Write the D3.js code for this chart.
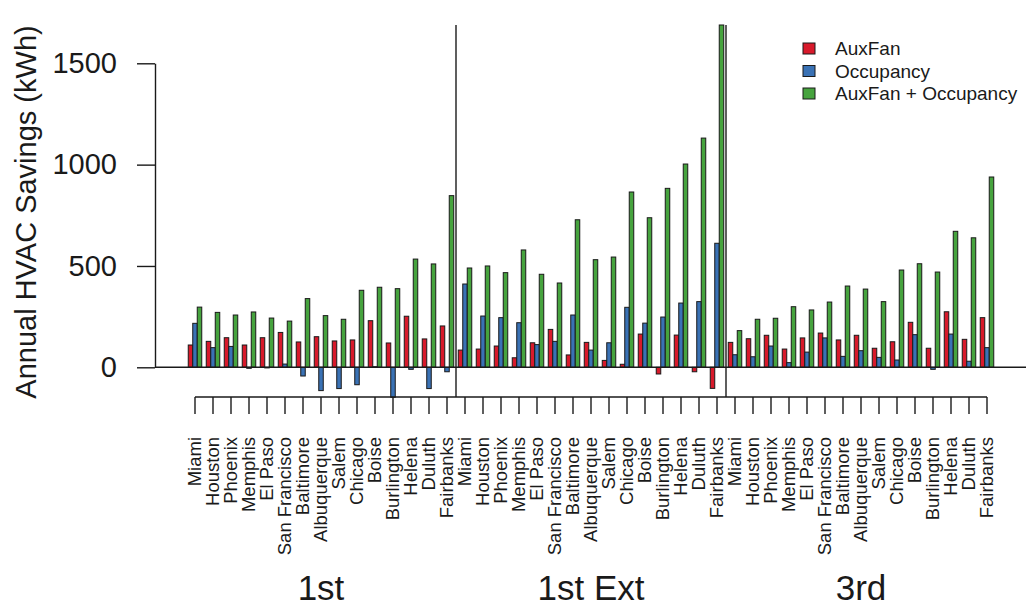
<!DOCTYPE html>
<html>
<head>
<meta charset="utf-8">
<script src="https://cdn.jsdelivr.net/npm/d3@7"></script>
<style>
  html, body { margin: 0; padding: 0; background: #fff; }
  svg { display: block; font-family: "Liberation Sans", Arial, sans-serif; }
</style>
</head>
<body>
<svg id="chart" width="1026" height="611"></svg>
<script>
// Building configurations (outer groups) and climate-zone cities (inner categories)
const groups = ["1st", "1st Ext", "3rd"];
const cities = ["Miami", "Houston", "Phoenix", "Memphis", "El Paso", "San Francisco",
  "Baltimore", "Albuquerque", "Salem", "Chicago", "Boise", "Burlington",
  "Helena", "Duluth", "Fairbanks"];
const seriesNames = ["AuxFan", "Occupancy", "AuxFan + Occupancy"];
const seriesColors = ["#d81a2b", "#3a72b5", "#46a33e"];

// Annual HVAC savings (kWh), one array per series per configuration, in city order
const auxFan1st   = [110, 128, 146, 110, 146, 172, 125, 151, 130, 135, 230, 120, 252, 140, 204];
const occ1st      = [217, 97, 103, -5, -3, 16, -43, -115, -105, -86, 3, -148, -10, -105, -22];
const both1st     = [297, 271, 258, 273, 243, 228, 339, 255, 237, 380, 395, 388, 534, 510, 847];

const auxFan1stExt = [85, 90, 105, 47, 121, 187, 61, 123, 34, 15, 164, -33, 159, -22, -104];
const occ1stExt    = [411, 253, 245, 220, 112, 128, 258, 85, 121, 296, 218, 248, 317, 324, 612];
const both1stExt   = [490, 500, 467, 579, 459, 416, 728, 531, 544, 865, 738, 883, 1003, 1131, 1689];

const auxFan3rd = [123, 141, 158, 90, 145, 169, 135, 158, 94, 126, 222, 94, 274, 138, 245];
const occ3rd    = [62, 52, 105, 23, 75, 145, 54, 82, 49, 36, 161, -10, 164, 30, 97];
const both3rd   = [181, 237, 242, 299, 283, 322, 401, 386, 324, 480, 511, 470, 671, 639, 939];

const yTicks = [0, 500, 1000, 1500];

const seriesByGroup = {
  "1st": [auxFan1st, occ1st, both1st],
  "1st Ext": [auxFan1stExt, occ1stExt, both1stExt],
  "3rd": [auxFan3rd, occ3rd, both3rd]
};

// Flatten into one record per (configuration, city)
const rows = [];
groups.forEach(g => {
  cities.forEach((c, i) => {
    rows.push({ key: g + "|" + c, group: g, city: c,
      values: seriesByGroup[g].map(arr => arr[i]) });
  });
});

const svg = d3.select("#chart");
const ink = "#1a1a1a";

const x = d3.scaleBand()
  .domain(rows.map(d => d.key))
  .range([183.75, 998.25])
  .paddingInner(0.25)
  .paddingOuter(0.25);

const xs = d3.scaleBand()
  .domain(d3.range(seriesNames.length))
  .range([0, x.bandwidth()]);

const y = d3.scaleLinear().domain([0, 1500]).range([367.3, 63.3]);

const center = k => x(k) + x.bandwidth() / 2;

// Bars
const cityG = svg.append("g").selectAll("g")
  .data(rows).join("g")
  .attr("transform", d => `translate(${x(d.key)},0)`);

cityG.selectAll("rect")
  .data(d => d.values.map((v, s) => ({ v, s })))
  .join("rect")
  .attr("x", d => xs(d.s))
  .attr("width", xs.bandwidth())
  .attr("y", d => y(Math.max(0, d.v)))
  .attr("height", d => Math.abs(y(d.v) - y(0)))
  .attr("fill", d => seriesColors[d.s])
  .attr("stroke", ink)
  .attr("stroke-width", 1);

// Zero reference line
svg.append("line")
  .attr("x1", 155).attr("x2", 1026)
  .attr("y1", y(0)).attr("y2", y(0))
  .attr("stroke", ink).attr("stroke-width", 1.4);

// Y axis
const yAxis = d3.axisLeft(y).tickValues(yTicks).tickFormat(d3.format("d"))
  .tickSize(18).tickPadding(20).tickSizeOuter(0);
const yg = svg.append("g").attr("transform", "translate(155,0)").call(yAxis);
yg.select(".domain").attr("stroke", ink).attr("stroke-width", 1.4);
yg.selectAll(".tick line").attr("stroke", ink).attr("stroke-width", 1.4);
yg.selectAll(".tick text")
  .attr("fill", ink)
  .style("font-size", "29px")
  .style("font-family", "'Liberation Sans', Arial, sans-serif");

// Y axis title
svg.append("text")
  .attr("transform", "translate(36,212) rotate(-90)")
  .attr("text-anchor", "middle")
  .attr("fill", ink)
  .style("font-size", "29px")
  .text("Annual HVAC Savings (kWh)");

// Category axis along the bottom
const xAxisY = 397;
const xAxis = d3.axisBottom(x).tickSize(17).tickSizeOuter(0).tickFormat(() => "");
const xg = svg.append("g").attr("transform", `translate(0,${xAxisY})`).call(xAxis);
xg.select(".domain")
  .attr("d", `M${center(rows[0].key)},0H${center(rows[rows.length - 1].key)}`)
  .attr("stroke", ink).attr("stroke-width", 1.4);
xg.selectAll(".tick line").attr("stroke", ink).attr("stroke-width", 1.4);

// City labels, rotated
svg.append("g").selectAll("text")
  .data(rows).join("text")
  .attr("transform", d => `translate(${center(d.key)},437) rotate(-90)`)
  .attr("text-anchor", "end")
  .attr("dy", "0.35em")
  .attr("fill", ink)
  .style("font-size", "18.5px")
  .text(d => d.city);

// Separators between configurations
groups.slice(1).forEach(g => {
  const first = rows.find(r => r.group === g).key;
  const prevIdx = rows.findIndex(r => r.key === first) - 1;
  const sx = (center(first) + center(rows[prevIdx].key)) / 2;
  svg.append("line")
    .attr("x1", sx).attr("x2", sx)
    .attr("y1", 25).attr("y2", xAxisY)
    .attr("stroke", ink).attr("stroke-width", 1.4);
});

// Configuration labels
groups.forEach(g => {
  const ks = rows.filter(r => r.group === g).map(r => r.key);
  const cx = (center(ks[0]) + center(ks[ks.length - 1])) / 2;
  svg.append("text")
    .attr("x", cx).attr("y", 600)
    .attr("text-anchor", "middle")
    .attr("fill", ink)
    .style("font-size", "35px")
    .text(g);
});

// Legend
const legend = svg.append("g").attr("transform", "translate(803,48.5)");
seriesNames.forEach((name, i) => {
  const row = legend.append("g").attr("transform", `translate(0,${i * 22.5})`);
  row.append("rect")
    .attr("x", 0).attr("y", -5.5)
    .attr("width", 12).attr("height", 11)
    .attr("fill", seriesColors[i])
    .attr("stroke", ink).attr("stroke-width", 1);
  row.append("text")
    .attr("x", 32).attr("y", 0)
    .attr("dy", "0.35em")
    .attr("fill", ink)
    .style("font-size", "19px")
    .text(name);
});
</script>
</body>
</html>
